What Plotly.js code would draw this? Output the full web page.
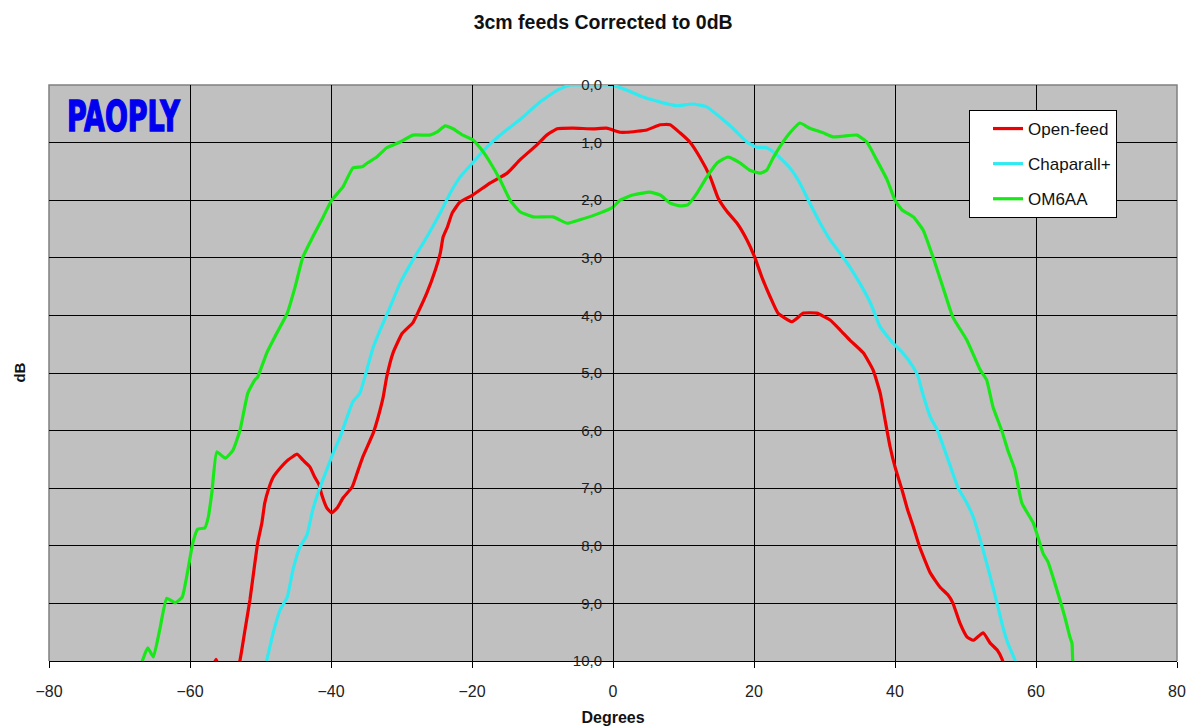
<!DOCTYPE html>
<html>
<head>
<meta charset="utf-8">
<script src="https://cdn.plot.ly/plotly-3.0.1.min.js"></script>
<style>html,body{margin:0;padding:0;background:#fff;}#chart{width:1192px;height:726px;}</style>
</head>
<body>
<div id="chart"></div>
<script>
// ---- data ----
var openFeedX = [-57.5,-56.3,-55.3,-54.0,-52.9,-52.2,-51.5,-50.8,-50.4,-49.8,-49.4,-48.9,-48.2,-47.2,-46.1,-44.8,-44.0,-43.0,-42.3,-41.7,-41.3,-40.6,-39.9,-39.1,-38.3,-37.0,-36.3,-35.5,-34.0,-33.3,-32.6,-32.1,-31.2,-29.9,-28.4,-27.7,-26.4,-25.2,-24.5,-24.1,-23.5,-22.8,-21.7,-19.9,-17.4,-15.0,-13.2,-10.8,-9.4,-7.9,-5.7,-2.8,-0.9,1.0,2.0,4.8,6.7,8.1,9.5,10.9,12.3,13.8,14.9,16.2,17.6,19.0,20.1,21.1,22.3,23.4,25.4,27.0,28.9,30.8,32.2,33.6,35.5,36.9,37.9,38.6,39.3,40.0,41.0,41.8,42.6,43.5,45.0,46.4,47.5,48.2,49.2,50.2,51.1,52.5,53.5,54.5,55.2,55.8];
var openFeedY = [10.3,9.97,10.3,10.4,9.98,9.46,8.94,8.30,7.95,7.60,7.26,7.03,6.81,6.65,6.51,6.41,6.51,6.63,6.81,6.94,7.12,7.34,7.43,7.34,7.17,6.98,6.74,6.46,6.04,5.76,5.42,5.07,4.65,4.31,4.13,3.96,3.61,3.21,2.92,2.64,2.47,2.22,2.03,1.91,1.70,1.53,1.30,1.04,0.87,0.76,0.75,0.76,0.75,0.82,0.82,0.78,0.69,0.69,0.83,0.99,1.25,1.60,1.96,2.20,2.40,2.69,2.99,3.33,3.68,3.96,4.11,3.96,3.96,4.08,4.25,4.43,4.65,4.95,5.35,5.82,6.28,6.63,7.03,7.38,7.67,8.02,8.47,8.72,8.85,8.99,9.34,9.58,9.64,9.51,9.69,9.81,9.97,10.2];

var chaparallX = [-49.6,-49.1,-48.2,-47.2,-46.2,-45.4,-44.4,-43.4,-42.6,-41.6,-40.6,-39.7,-38.7,-37.7,-36.9,-35.9,-35.2,-34.0,-32.6,-31.6,-30.2,-28.4,-26.4,-24.5,-23.1,-21.7,-19.9,-17.9,-15.6,-12.8,-10.4,-7.9,-6.1,-3.3,-0.4,2.0,4.3,7.1,9.1,11.3,13.3,15.2,17.0,19.0,20.4,21.8,23.3,25.1,26.5,27.9,29.4,30.8,32.2,33.6,35.0,36.5,37.9,39.7,41.1,42.6,43.3,43.8,45.0,46.0,47.4,48.9,50.2,51.1,52.1,53.0,53.9,54.6,55.3,56.0,57.0,57.4];
var chaparallY = [10.2,9.98,9.51,9.11,8.89,8.42,8.02,7.81,7.38,7.00,6.68,6.39,6.11,5.76,5.50,5.35,5.07,4.55,4.13,3.85,3.44,3.04,2.64,2.22,1.88,1.60,1.35,1.08,0.83,0.56,0.30,0.09,0.00,0.00,0.00,0.09,0.21,0.31,0.36,0.33,0.38,0.56,0.75,0.99,1.08,1.09,1.22,1.44,1.70,2.05,2.40,2.69,2.92,3.16,3.44,3.78,4.20,4.48,4.65,4.90,5.07,5.30,5.76,5.99,6.46,6.98,7.26,7.50,7.90,8.30,8.72,9.06,9.41,9.69,9.98,10.2];

var om6aaX = [-67.2,-66.7,-66.0,-65.2,-64.3,-63.3,-62.1,-61.1,-60.3,-59.6,-58.9,-57.9,-57.4,-56.9,-56.2,-55.0,-53.9,-52.9,-51.8,-50.8,-50.4,-49.1,-47.7,-46.2,-45.1,-44.0,-42.6,-41.1,-39.9,-38.3,-36.9,-35.6,-34.8,-33.5,-32.1,-30.2,-28.4,-26.0,-25.0,-23.8,-22.7,-21.3,-19.9,-18.6,-17.4,-16.0,-14.6,-13.2,-11.3,-8.5,-6.5,-4.7,-1.8,0.0,1.0,2.8,5.2,6.7,8.1,9.5,10.6,11.9,13.3,14.8,16.3,18.0,19.4,20.9,21.8,22.7,24.0,25.1,26.5,27.9,29.8,31.2,32.6,34.6,36.0,37.4,38.9,40.0,41.0,42.6,44.0,45.4,46.8,48.2,50.2,52.1,53.0,53.9,55.2,56.0,57.0,58.0,59.6,60.1,61.0,61.7,62.4,63.4,64.1,64.8,65.1,65.2,65.3];
var om6aaY = [10.2,9.98,9.77,9.93,9.46,8.91,8.99,8.89,8.42,7.95,7.71,7.69,7.50,7.08,6.37,6.48,6.34,5.99,5.35,5.12,5.07,4.65,4.31,3.96,3.51,2.99,2.64,2.29,2.00,1.77,1.44,1.42,1.35,1.25,1.09,0.99,0.87,0.87,0.82,0.71,0.76,0.87,0.95,1.13,1.35,1.65,2.00,2.20,2.29,2.29,2.40,2.34,2.22,2.12,2.00,1.91,1.86,1.91,2.05,2.10,2.08,1.88,1.60,1.35,1.25,1.35,1.48,1.53,1.48,1.27,1.01,0.83,0.66,0.75,0.83,0.90,0.89,0.87,0.99,1.30,1.65,2.00,2.17,2.29,2.52,2.99,3.51,4.03,4.43,4.95,5.12,5.59,6.02,6.34,6.68,7.26,7.60,7.78,8.13,8.28,8.54,8.94,9.24,9.58,9.69,9.98,10.2];

var yTickVals = [0,1,2,3,4,5,6,7,8,9,10];
var yTickText = ['0,0','1,0','2,0','3,0','4,0','5,0','6,0','7,0','8,0','9,0','10,0'];
var xTickVals = [-80,-60,-40,-20,0,20,40,60,80];

var seriesNames = ['Open-feed','Chaparall+','OM6AA'];
var seriesColors = ['#ee0000','#30eaf2','#18e818'];

var FONT = 'Liberation Sans, Arial, sans-serif';

var traces = [
  {x: openFeedX, y: openFeedY, name: seriesNames[0]},
  {x: chaparallX, y: chaparallY, name: seriesNames[1]},
  {x: om6aaX, y: om6aaY, name: seriesNames[2]}
].map(function(t, i){
  return {x: t.x, y: t.y, name: t.name, type: 'scatter', mode: 'lines',
          line: {color: seriesColors[i], width: 3.2, shape: 'spline', smoothing: 0.4},
          legendgroup: 'g' + i, hoverinfo: 'x+y+name'};
});

var layout = {
  width: 1192, height: 726,
  margin: {l: 49, r: 15, t: 85, b: 65},
  paper_bgcolor: '#ffffff',
  plot_bgcolor: '#c0c0c0',
  font: {family: FONT, color: '#222', size: 15},
  showlegend: true,
  title: {text: '3cm feeds Corrected to 0dB', font: {family: FONT, size: 19.5, weight: 'bold', color: '#111'},
          x: 0.506, xref: 'container', xanchor: 'center', y: 0.969, yref: 'container', yanchor: 'middle'},
  xaxis: {
    range: [-80, 80], tickvals: xTickVals, ticks: 'outside', ticklen: 6, tickcolor: '#000',
    showline: true, linecolor: '#000', linewidth: 1,
    showgrid: true, gridcolor: '#000', gridwidth: 1, zeroline: false,
    tickfont: {family: FONT, size: 16, color: '#222'}, ticklabelstandoff: 10,
    automargin: false,
    title: {text: 'Degrees', font: {family: FONT, size: 16, weight: 'bold', color: '#111'}, standoff: 12}
  },
  yaxis: {
    range: [10, 0], tickvals: yTickVals, ticktext: yTickText,
    anchor: 'free', position: 0.5, side: 'left',
    ticks: 'outside', ticklen: 5, tickcolor: '#000',
    showline: true, linecolor: '#000', linewidth: 1,
    showgrid: true, gridcolor: '#000', gridwidth: 1, zeroline: false,
    tickfont: {family: FONT, size: 15, color: '#222'}, ticklabelstandoff: 3,
    automargin: false
  },
  legend: {
    x: 0.8156, y: 0.9566, xanchor: 'left', yanchor: 'top',
    bgcolor: '#ffffff', bordercolor: '#000', borderwidth: 1,
    font: {family: FONT, size: 17, color: '#111'},
    traceorder: 'grouped', tracegroupgap: 10, itemwidth: 30, indentation: 18
  },
  shapes: [
    {type: 'path', xref: 'paper', yref: 'paper', path: 'M0,0 L0,1 L1,1 L1,0',
     line: {color: '#808080', width: 1.5}, layer: 'between'}
  ],
  annotations: [
    {text: 'PAOPLY', xref: 'paper', yref: 'paper', x: 0.0142, y: 0.945, xanchor: 'left', yanchor: 'middle',
     showarrow: false, font: {family: 'DejaVu Sans Condensed, Liberation Sans Narrow, sans-serif', size: 30, weight: 'bold', color: '#0000ee'}},
    {text: 'dB', xref: 'paper', yref: 'paper', x: -0.027, y: 0.5, xanchor: 'center', yanchor: 'middle',
     textangle: -90, showarrow: false, font: {family: FONT, size: 15, weight: 'bold', color: '#111'}}
  ]
};

Plotly.newPlot('chart', traces, layout, {displayModeBar: false, staticPlot: true}).then(function(gd){
  // make the PAOPLY logo taller, like the condensed heavy lettering of the reference
  var texts = gd.querySelectorAll('.annotation-text');
  texts.forEach(function(t){
    if (t.textContent === 'PAOPLY') {
      var bb = t.getBBox();
      var cx = bb.x + bb.width / 2, cy = bb.y + bb.height / 2;
      t.setAttribute('transform', 'translate(' + cx + ',' + cy + ') scale(1,1.4) translate(' + (-cx) + ',' + (-cy) + ')');
      t.style.stroke = '#0000ee';
      t.style.strokeWidth = '1px';
    }
  });
});
</script>
</body>
</html>
